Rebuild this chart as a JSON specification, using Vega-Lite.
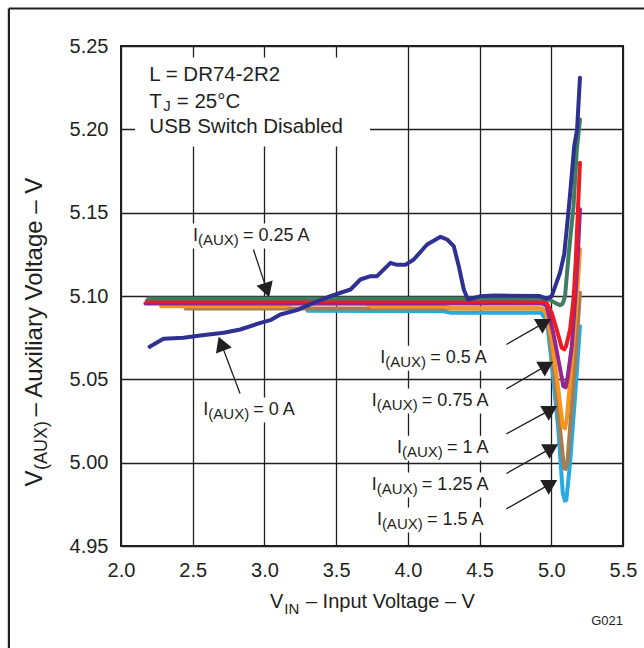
{
  "$schema": "https://vega.github.io/schema/vega-lite/v6.json",
  "width": 502,
  "height": 500,
  "autosize": {"type": "none"},
  "padding": {"left": 121, "top": 46, "right": 21, "bottom": 102},
  "background": "white",
  "config": {
    "view": {"stroke": "#231F20", "strokeWidth": 2},
    "font": "Liberation Sans",
    "axis": {"grid": true, "gridColor": "#231F20", "gridWidth": 1.3, "gridOpacity": 1, "domain": false, "ticks": false, "tickSize": 0, "labelFont": "Liberation Sans", "labelFontSize": 20, "labelColor": "#231F20", "labelFlush": false, "labelOverlap": false, "labelBound": false}
  },
  "datasets": {
    "curves": [
      {"s": "1.5 A", "v": 3.3, "a": 5.0912}, {"s": "1.5 A", "v": 4.25, "a": 5.0908}, {"s": "1.5 A", "v": 4.3, "a": 5.0899}, {"s": "1.5 A", "v": 4.93, "a": 5.0899}, {"s": "1.5 A", "v": 4.97, "a": 5.085}, {"s": "1.5 A", "v": 5.003, "a": 5.0599}, {"s": "1.5 A", "v": 5.049, "a": 5.0199}, {"s": "1.5 A", "v": 5.08, "a": 4.9819}, {"s": "1.5 A", "v": 5.095, "a": 4.9772}, {"s": "1.5 A", "v": 5.105, "a": 4.9775}, {"s": "1.5 A", "v": 5.131, "a": 4.9999}, {"s": "1.5 A", "v": 5.166, "a": 5.0399}, {"s": "1.5 A", "v": 5.2, "a": 5.0819},
      {"s": "1.25 A", "v": 2.45, "a": 5.0925}, {"s": "1.25 A", "v": 4.93, "a": 5.0925}, {"s": "1.25 A", "v": 4.968, "a": 5.0905}, {"s": "1.25 A", "v": 5.014, "a": 5.0599}, {"s": "1.25 A", "v": 5.061, "a": 5.0199}, {"s": "1.25 A", "v": 5.089, "a": 4.9969}, {"s": "1.25 A", "v": 5.1, "a": 4.9962}, {"s": "1.25 A", "v": 5.112, "a": 4.9999}, {"s": "1.25 A", "v": 5.166, "a": 5.0599}, {"s": "1.25 A", "v": 5.2, "a": 5.1019},
      {"s": "1 A", "v": 2.28, "a": 5.0939}, {"s": "1 A", "v": 3.15, "a": 5.0939}, {"s": "1 A", "v": 3.2, "a": 5.0955}, {"s": "1 A", "v": 3.7, "a": 5.0955}, {"s": "1 A", "v": 3.75, "a": 5.0937}, {"s": "1 A", "v": 4.25, "a": 5.0937}, {"s": "1 A", "v": 4.3, "a": 5.0927}, {"s": "1 A", "v": 4.93, "a": 5.0927}, {"s": "1 A", "v": 4.96, "a": 5.0905}, {"s": "1 A", "v": 5.003, "a": 5.0739}, {"s": "1 A", "v": 5.049, "a": 5.0439}, {"s": "1 A", "v": 5.08, "a": 5.0219}, {"s": "1 A", "v": 5.095, "a": 5.0205}, {"s": "1 A", "v": 5.108, "a": 5.0259}, {"s": "1 A", "v": 5.143, "a": 5.0599}, {"s": "1 A", "v": 5.178, "a": 5.0979}, {"s": "1 A", "v": 5.2, "a": 5.128},
      {"s": "0.75 A", "v": 2.17, "a": 5.0955}, {"s": "0.75 A", "v": 4.94, "a": 5.0955}, {"s": "0.75 A", "v": 4.968, "a": 5.0939}, {"s": "0.75 A", "v": 5.014, "a": 5.0779}, {"s": "0.75 A", "v": 5.049, "a": 5.0619}, {"s": "0.75 A", "v": 5.084, "a": 5.0459}, {"s": "0.75 A", "v": 5.1, "a": 5.0452}, {"s": "0.75 A", "v": 5.112, "a": 5.0499}, {"s": "0.75 A", "v": 5.143, "a": 5.0699}, {"s": "0.75 A", "v": 5.166, "a": 5.0979}, {"s": "0.75 A", "v": 5.185, "a": 5.125}, {"s": "0.75 A", "v": 5.2, "a": 5.152},
      {"s": "0.5 A", "v": 2.18, "a": 5.097}, {"s": "0.5 A", "v": 4.94, "a": 5.097}, {"s": "0.5 A", "v": 4.968, "a": 5.0959}, {"s": "0.5 A", "v": 5.003, "a": 5.0899}, {"s": "0.5 A", "v": 5.038, "a": 5.0799}, {"s": "0.5 A", "v": 5.073, "a": 5.0689}, {"s": "0.5 A", "v": 5.09, "a": 5.068}, {"s": "0.5 A", "v": 5.103, "a": 5.0699}, {"s": "0.5 A", "v": 5.131, "a": 5.0799}, {"s": "0.5 A", "v": 5.155, "a": 5.098}, {"s": "0.5 A", "v": 5.17, "a": 5.12}, {"s": "0.5 A", "v": 5.185, "a": 5.15}, {"s": "0.5 A", "v": 5.2, "a": 5.18},
      {"s": "0.25 A", "v": 2.19, "a": 5.0985}, {"s": "0.25 A", "v": 4.93, "a": 5.0985}, {"s": "0.25 A", "v": 4.97, "a": 5.0985}, {"s": "0.25 A", "v": 5.026, "a": 5.0959}, {"s": "0.25 A", "v": 5.06, "a": 5.0945}, {"s": "0.25 A", "v": 5.08, "a": 5.0955}, {"s": "0.25 A", "v": 5.096, "a": 5.0999}, {"s": "0.25 A", "v": 5.12, "a": 5.1239}, {"s": "0.25 A", "v": 5.155, "a": 5.1539}, {"s": "0.25 A", "v": 5.178, "a": 5.1879}, {"s": "0.25 A", "v": 5.2, "a": 5.2059},
      {"s": "0 A", "v": 2.2, "a": 5.0695}, {"s": "0 A", "v": 2.296, "a": 5.0743}, {"s": "0 A", "v": 2.436, "a": 5.0749}, {"s": "0 A", "v": 2.553, "a": 5.0763}, {"s": "0 A", "v": 2.716, "a": 5.0779}, {"s": "0 A", "v": 2.832, "a": 5.0799}, {"s": "0 A", "v": 2.972, "a": 5.0839}, {"s": "0 A", "v": 3.041, "a": 5.0855}, {"s": "0 A", "v": 3.111, "a": 5.0889}, {"s": "0 A", "v": 3.227, "a": 5.0915}, {"s": "0 A", "v": 3.343, "a": 5.0959}, {"s": "0 A", "v": 3.46, "a": 5.0999}, {"s": "0 A", "v": 3.6, "a": 5.1039}, {"s": "0 A", "v": 3.669, "a": 5.1099}, {"s": "0 A", "v": 3.739, "a": 5.1119}, {"s": "0 A", "v": 3.785, "a": 5.1119}, {"s": "0 A", "v": 3.879, "a": 5.1199}, {"s": "0 A", "v": 3.925, "a": 5.1187}, {"s": "0 A", "v": 3.983, "a": 5.1187}, {"s": "0 A", "v": 4.041, "a": 5.1219}, {"s": "0 A", "v": 4.134, "a": 5.1309}, {"s": "0 A", "v": 4.228, "a": 5.1355}, {"s": "0 A", "v": 4.274, "a": 5.1339}, {"s": "0 A", "v": 4.32, "a": 5.1299}, {"s": "0 A", "v": 4.355, "a": 5.1179}, {"s": "0 A", "v": 4.39, "a": 5.1039}, {"s": "0 A", "v": 4.418, "a": 5.0979}, {"s": "0 A", "v": 4.507, "a": 5.0999}, {"s": "0 A", "v": 4.6, "a": 5.1003}, {"s": "0 A", "v": 4.92, "a": 5.1}, {"s": "0 A", "v": 4.968, "a": 5.0983}, {"s": "0 A", "v": 5.003, "a": 5.0999}, {"s": "0 A", "v": 5.061, "a": 5.114}, {"s": "0 A", "v": 5.09, "a": 5.125}, {"s": "0 A", "v": 5.11, "a": 5.142}, {"s": "0 A", "v": 5.13, "a": 5.16}, {"s": "0 A", "v": 5.16, "a": 5.19}, {"s": "0 A", "v": 5.18, "a": 5.2}, {"s": "0 A", "v": 5.2, "a": 5.231}
    ],
    "labels": [
      {"lab": "0 A", "x": 2.574, "y": 5.0289, "rest": "= 0 A"},
      {"lab": "0.25 A", "x": 2.502, "y": 5.1333, "rest": "= 0.25 A"},
      {"lab": "0.5 A", "x": 3.807, "y": 5.0599, "rest": "= 0.5 A"},
      {"lab": "0.75 A", "x": 3.749, "y": 5.0343, "rest": "= 0.75 A"},
      {"lab": "1 A", "x": 3.924, "y": 5.0059, "rest": "= 1 A"},
      {"lab": "1.25 A", "x": 3.749, "y": 4.9839, "rest": "= 1.25 A"},
      {"lab": "1.5 A", "x": 3.784, "y": 4.9629, "rest": "= 1.5 A"}
    ],
    "arrows": [
      {"lab": "0 A", "x1": 2.83, "y1": 5.0415, "hx": 2.699, "hy": 5.0714},
      {"lab": "0.25 A", "x1": 2.923, "y1": 5.1279, "hx": 3.017, "hy": 5.1035},
      {"lab": "0.5 A", "x1": 4.687, "y1": 5.0709, "hx": 4.953, "hy": 5.084},
      {"lab": "0.75 A", "x1": 4.687, "y1": 5.0443, "hx": 4.969, "hy": 5.0584},
      {"lab": "1 A", "x1": 4.687, "y1": 5.0173, "hx": 4.997, "hy": 5.0318},
      {"lab": "1.25 A", "x1": 4.687, "y1": 4.9935, "hx": 5.003, "hy": 5.0089},
      {"lab": "1.5 A", "x1": 4.687, "y1": 4.9723, "hx": 4.997, "hy": 4.9874}
    ],
    "info": [
      {"t": "L = DR74-2R2", "x": 2.1975, "y": 5.2289},
      {"t": "T", "x": 2.1975, "y": 5.2129},
      {"t": "= 25°C", "x": 2.3887, "y": 5.2129},
      {"t": "USB Switch Disabled", "x": 2.1975, "y": 5.1979}
    ]
  },
  "layer": [
    {
      "data": {"values": [{"x": 1.2184, "y": 4.8, "x2": 1.2184, "y2": 5.2725}, {"x": 1.2184, "y": 5.2725, "x2": 5.9, "y2": 5.2725}]},
      "mark": {"type": "rule", "color": "#231F20", "strokeWidth": 2.2},
      "encoding": {
        "x": {"field": "x", "type": "quantitative", "title": null, "scale": {"domain": [2, 5.5], "nice": false, "zero": false}, "axis": {"values": [2, 2.5, 3, 3.5, 4, 4.5, 5, 5.5], "format": ".1f", "labelPadding": 14, "title": null}},
        "y": {"field": "y", "type": "quantitative", "title": null, "scale": {"domain": [4.95, 5.25], "nice": false, "zero": false}, "axis": {"values": [4.95, 5, 5.05, 5.1, 5.15, 5.2, 5.25], "format": ".2f", "labelPadding": 13, "title": null}},
        "x2": {"field": "x2"},
        "y2": {"field": "y2"}
      }
    },
    {
      "data": {"name": "labels"},
      "mark": {"type": "point", "filled": true, "fill": "white", "opacity": 1, "strokeWidth": 0, "size": 40000, "shape": "M-0.04,-0.17H1.22V0.08H-0.04Z"},
      "encoding": {
        "x": {"field": "x", "type": "quantitative", "title": null},
        "y": {"field": "y", "type": "quantitative", "title": null}
      }
    },
    {
      "data": {"name": "info"},
      "transform": [{"filter": "datum.t == 'L = DR74-2R2'"}],
      "mark": {"type": "point", "filled": true, "fill": "white", "opacity": 1, "strokeWidth": 0, "size": 40000, "shape": "M-0.143,-0.237H2.207V0.653H-0.143Z"},
      "encoding": {
        "x": {"field": "x", "type": "quantitative", "title": null},
        "y": {"field": "y", "type": "quantitative", "title": null}
      }
    },
    {
      "data": {"name": "curves"},
      "mark": {"type": "line", "strokeWidth": 4, "strokeJoin": "round", "strokeCap": "round"},
      "encoding": {
        "x": {"field": "v", "type": "quantitative", "title": null},
        "y": {"field": "a", "type": "quantitative", "title": null},
        "color": {"field": "s", "type": "nominal", "legend": null, "scale": {"domain": ["0 A", "0.25 A", "0.5 A", "0.75 A", "1 A", "1.25 A", "1.5 A"], "range": ["#2E3192", "#3F7D5F", "#ED1C24", "#92278F", "#F7941D", "#A67C52", "#27AAE1"]}},
        "order": {"field": "v", "type": "quantitative"}
      }
    },
    {
      "data": {"name": "arrows"},
      "mark": {"type": "rule", "color": "#231F20", "strokeWidth": 1.3},
      "encoding": {
        "x": {"field": "x1", "type": "quantitative", "title": null},
        "y": {"field": "y1", "type": "quantitative", "title": null},
        "x2": {"field": "hx"},
        "y2": {"field": "hy"}
      }
    },
    {
      "data": {"name": "arrows"},
      "transform": [{"filter": "datum.lab != '0 A' && datum.lab != '0.25 A'"}],
      "mark": {"type": "point", "shape": "triangle-up", "filled": true, "color": "#231F20", "opacity": 1, "size": 289, "angle": 60},
      "encoding": {
        "x": {"field": "hx", "type": "quantitative", "title": null},
        "y": {"field": "hy", "type": "quantitative", "title": null}
      }
    },
    {
      "data": {"name": "arrows"},
      "transform": [{"filter": "datum.lab == '0.25 A'"}],
      "mark": {"type": "point", "shape": "triangle-up", "filled": true, "color": "#231F20", "opacity": 1, "size": 289, "angle": 162},
      "encoding": {
        "x": {"field": "hx", "type": "quantitative", "title": null},
        "y": {"field": "hy", "type": "quantitative", "title": null}
      }
    },
    {
      "data": {"name": "arrows"},
      "transform": [{"filter": "datum.lab == '0 A'"}],
      "mark": {"type": "point", "shape": "triangle-up", "filled": true, "color": "#231F20", "opacity": 1, "size": 289, "angle": 339},
      "encoding": {
        "x": {"field": "hx", "type": "quantitative", "title": null},
        "y": {"field": "hy", "type": "quantitative", "title": null}
      }
    },
    {
      "data": {"name": "labels"},
      "mark": {"type": "text", "text": "I", "align": "left", "baseline": "alphabetic", "fontSize": 18, "color": "#231F20"},
      "encoding": {
        "x": {"field": "x", "type": "quantitative", "title": null},
        "y": {"field": "y", "type": "quantitative", "title": null}
      }
    },
    {
      "data": {"name": "labels"},
      "mark": {"type": "text", "text": "(AUX)", "align": "left", "baseline": "alphabetic", "fontSize": 15, "dx": 5, "dy": 4.5, "color": "#231F20"},
      "encoding": {
        "x": {"field": "x", "type": "quantitative", "title": null},
        "y": {"field": "y", "type": "quantitative", "title": null}
      }
    },
    {
      "data": {"name": "labels"},
      "mark": {"type": "text", "align": "left", "baseline": "alphabetic", "fontSize": 18, "dx": 50, "color": "#231F20"},
      "encoding": {
        "x": {"field": "x", "type": "quantitative", "title": null},
        "y": {"field": "y", "type": "quantitative", "title": null},
        "text": {"field": "rest"}
      }
    },
    {
      "data": {"name": "info"},
      "mark": {"type": "text", "align": "left", "baseline": "alphabetic", "fontSize": 20.5, "color": "#231F20"},
      "encoding": {
        "x": {"field": "x", "type": "quantitative", "title": null},
        "y": {"field": "y", "type": "quantitative", "title": null},
        "text": {"field": "t"}
      }
    },
    {
      "data": {"name": "info"},
      "transform": [{"filter": "datum.t == 'T'"}],
      "mark": {"type": "text", "text": "J", "align": "left", "baseline": "alphabetic", "fontSize": 15, "dx": 14, "dy": 3.5, "color": "#231F20"},
      "encoding": {
        "x": {"field": "x", "type": "quantitative", "title": null},
        "y": {"field": "y", "type": "quantitative", "title": null}
      }
    },
    {
      "data": {"values": [{"x": 3.0384, "y": 4.9131}]},
      "mark": {"type": "text", "text": "V", "align": "left", "baseline": "alphabetic", "fontSize": 20, "color": "#231F20"},
      "encoding": {
        "x": {"field": "x", "type": "quantitative", "title": null},
        "y": {"field": "y", "type": "quantitative", "title": null}
      }
    },
    {
      "data": {"values": [{"x": 3.0384, "y": 4.9131}]},
      "mark": {"type": "text", "text": "IN", "align": "left", "baseline": "alphabetic", "fontSize": 15, "dx": 14.3, "dy": 6, "color": "#231F20"},
      "encoding": {
        "x": {"field": "x", "type": "quantitative", "title": null},
        "y": {"field": "y", "type": "quantitative", "title": null}
      }
    },
    {
      "data": {"values": [{"x": 3.0384, "y": 4.9131}]},
      "mark": {"type": "text", "text": "– Input Voltage – V", "align": "left", "baseline": "alphabetic", "fontSize": 20, "dx": 36, "color": "#231F20"},
      "encoding": {
        "x": {"field": "x", "type": "quantitative", "title": null},
        "y": {"field": "y", "type": "quantitative", "title": null}
      }
    },
    {
      "data": {"values": [{"x": 1.4487, "y": 4.9857}]},
      "mark": {"type": "text", "text": "V", "align": "left", "baseline": "alphabetic", "fontSize": 24, "angle": 270, "color": "#231F20"},
      "encoding": {
        "x": {"field": "x", "type": "quantitative", "title": null},
        "y": {"field": "y", "type": "quantitative", "title": null}
      }
    },
    {
      "data": {"values": [{"x": 1.4487, "y": 4.9857}]},
      "mark": {"type": "text", "text": "(AUX)", "align": "left", "baseline": "alphabetic", "fontSize": 18, "angle": 270, "dx": 16.5, "dy": 5, "color": "#231F20"},
      "encoding": {
        "x": {"field": "x", "type": "quantitative", "title": null},
        "y": {"field": "y", "type": "quantitative", "title": null}
      }
    },
    {
      "data": {"values": [{"x": 1.4487, "y": 4.9857}]},
      "mark": {"type": "text", "text": "– Auxiliary Voltage – V", "align": "left", "baseline": "alphabetic", "fontSize": 24, "angle": 270, "dx": 70, "color": "#231F20"},
      "encoding": {
        "x": {"field": "x", "type": "quantitative", "title": null},
        "y": {"field": "y", "type": "quantitative", "title": null}
      }
    },
    {
      "data": {"values": [{"x": 5.5, "y": 4.9029}]},
      "mark": {"type": "text", "text": "G021", "align": "right", "baseline": "alphabetic", "fontSize": 13, "color": "#231F20"},
      "encoding": {
        "x": {"field": "x", "type": "quantitative", "title": null},
        "y": {"field": "y", "type": "quantitative", "title": null}
      }
    }
  ]
}
